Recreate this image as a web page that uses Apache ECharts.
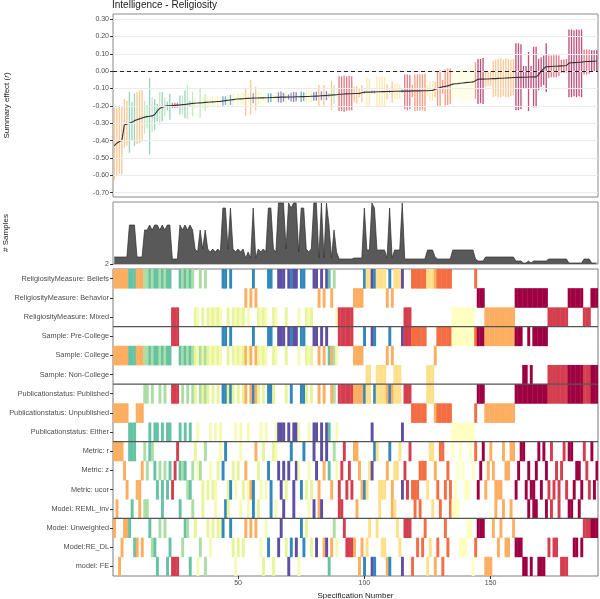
<!DOCTYPE html>
<html><head><meta charset="utf-8">
<script src="https://cdn.jsdelivr.net/npm/echarts@6/dist/echarts.min.js"></script>
<style>html,body{margin:0;padding:0;background:#fff}#main{width:600px;height:599px}</style>
</head><body><div id="main"></div>
<script>
// ---------------- DATA ----------------
const title = "Intelligence - Religiosity";
const factorLabels = ["ReligiosityMeasure: Beliefs","ReligiosityMeasure: Behavior","ReligiosityMeasure: Mixed",
  "Sample: Pre-College","Sample: College","Sample: Non-College",
  "Publicationstatus: Published","Publicationstatus: Unpublished","Publicationstatus: Either",
  "Metric: r","Metric: z","Metric: ucor",
  "Model: REML_inv","Model: Unweighted","Model:RE_DL","model: FE"];
const effectTicks = [-0.7,-0.6,-0.5,-0.4,-0.3,-0.2,-0.1,0,0.1,0.2,0.3];
const sampleTicks = [2];
const specTicks = [50,100,150];

// which-subsets (combos)
const comboKeys    = ["A","B","C","D","E","F","G","H","I","J","K","L","M","N","O","P"];
const comboColor   = ["#FDAE61","#66C2A5","#ABDDA4","#D53E4F","#E6F598","#F6FAB4","#3288BD","#FDAE61",
                      "#5E4FA2","#FEE08B","#F46D43","#FFFFBF","#FDAE61","#9E0142","#9E0142","#D53E4F"];
const comboRel     = ["Beliefs","Beliefs","Beliefs","Mixed","Mixed","Mixed","Beliefs","Behavior",
                      "Beliefs","Beliefs","Beliefs","Mixed","Mixed","Behavior","Behavior","Mixed"];
const comboSample  = ["College","College","College","Pre-College","College","College","Pre-College","College",
                      "Pre-College","Non-College","Pre-College","Pre-College","Pre-College","Pre-College","Non-College","Non-College"];
const comboPub     = ["Unpublished","Either","Published","Published","Published","Either","Published","Published",
                      "Either","Published","Unpublished","Either","Unpublished","Published","Published","Published"];
const comboK       = [9,41,36,7,17,14,58,8,63,16,7,16,9,5,3,7];

// per specification (1..192)
const specCombo = "AAAAAABBBAAA" + "CCBCBBCBCB" + "B" + "DDD" + "BCBCBC" + "EFCECEFEFEF" + "GGEGEFEFE" +
  "HFHGH" + "EFEFGGEF" + "IIIEIGIIF" + "GGEFEIIHIHIBHCF" + "DDDDDD" + "HHHH" + "G" + "JJ" + "I" + "G" +
  "JJJJ" + "H" + "G" + "H" + "JJJ" + "I" + "DDD" + "KKKKKK" + "JJJ" + "A" + "KKKKKK" + "LLLLLLLLL" + "K" +
  "NNN" + "MMMMMMMMMMMM" + "NNN" + "OO" + "N" + "O" + "NNNNNN" + "PPPPPPPP" + "OOOOOO" + "PPP" + "OOO";
const specMetric = "rrrrzurrru" + "uzrzrrzuzu" + "zuzuzrzzzu" + "uzrzzuruzu" + "uzrzruuzuz" + "ruzuuurzur" +
  "uzurrzuzuz" + "ruzzuruzur" + "zurzrzurzu" + "zruzurrzuu" + "uzzrruuuzr" + "uzzruzuruu" + "uzzzurrzur" +
  "ruzuruzrzu" + "urzruzruzr" + "zuuurzzrru" + "zrruzuuzru" + "rzuruzuzru" + "rruzzurzur" + "uz";
const specModel = "URFDUUURDD" + "RDRRUDDFUR" + "UFDFFFRDUU" + "FRUFDRFUDU" + "RUUURRUDFD" + "RDURURURDF" +
  "UDRFRDURDF" + "DRDFUDURDR" + "DRRDDFDUDR" + "RUDDDDRFDF" + "DUFFURDDFF" + "RRUDFUUUFR" + "DRDUFDRFDR" +
  "FUDRRRRDDD" + "UUFDUUUFFF" + "URDURDDRUD" + "DDFFRFRRFF" + "FRDRDDRFFF" + "RRDDRDUUUU" + "UU";
const metricRow = {r:"Metric: r", z:"Metric: z", u:"Metric: ucor"};
const modelRow  = {R:"Model: REML_inv", U:"Model: Unweighted", D:"Model:RE_DL", F:"model: FE"};

const estimate = [-0.430,-0.415,-0.405,-0.400,-0.310,-0.305,-0.300,-0.295,-0.285,-0.280,
-0.275,-0.270,-0.265,-0.262,-0.260,-0.258,-0.250,-0.230,-0.215,-0.208,
-0.203,-0.200,-0.200,-0.198,-0.197,-0.196,-0.195,-0.193,-0.192,-0.190,
-0.188,-0.186,-0.185,-0.184,-0.183,-0.182,-0.180,-0.179,-0.178,-0.177,
-0.176,-0.175,-0.174,-0.172,-0.170,-0.168,-0.166,-0.164,-0.162,-0.161,
-0.160,-0.159,-0.158,-0.157,-0.156,-0.155,-0.155,-0.155,-0.154,-0.154,
-0.153,-0.153,-0.152,-0.152,-0.151,-0.151,-0.150,-0.150,-0.150,-0.149,
-0.149,-0.149,-0.148,-0.148,-0.147,-0.147,-0.146,-0.146,-0.145,-0.145,
-0.144,-0.143,-0.142,-0.141,-0.140,-0.139,-0.138,-0.137,-0.136,-0.133,
-0.133,-0.132,-0.131,-0.130,-0.130,-0.129,-0.129,-0.128,-0.125,-0.122,
-0.121,-0.121,-0.120,-0.120,-0.119,-0.119,-0.118,-0.118,-0.117,-0.117,
-0.117,-0.116,-0.116,-0.116,-0.115,-0.115,-0.115,-0.115,-0.114,-0.114,
-0.114,-0.114,-0.113,-0.113,-0.113,-0.112,-0.112,-0.105,-0.100,-0.095,
-0.090,-0.088,-0.085,-0.080,-0.075,-0.073,-0.072,-0.070,-0.068,-0.066,
-0.065,-0.064,-0.062,-0.055,-0.047,-0.046,-0.046,-0.045,-0.045,-0.044,
-0.043,-0.043,-0.042,-0.041,-0.041,-0.040,-0.039,-0.038,-0.037,-0.037,
-0.036,-0.036,-0.035,-0.035,-0.034,-0.034,-0.033,-0.033,-0.020,0.000,
0.015,0.025,0.026,0.027,0.028,0.028,0.029,0.030,0.031,0.032,
0.046,0.048,0.049,0.050,0.051,0.052,0.054,0.055,0.055,0.056,
0.057,0.058];
const lower = [-0.630,-0.600,-0.590,-0.595,-0.440,-0.430,-0.470,-0.400,-0.430,-0.420,
-0.415,-0.405,-0.360,-0.330,-0.480,-0.350,-0.340,-0.290,-0.310,-0.290,
-0.260,-0.225,-0.280,-0.213,-0.212,-0.211,-0.250,-0.250,-0.270,-0.275,
-0.205,-0.260,-0.215,-0.200,-0.270,-0.215,-0.230,-0.215,-0.210,-0.210,
-0.205,-0.212,-0.205,-0.200,-0.195,-0.200,-0.195,-0.200,-0.178,-0.195,
-0.192,-0.195,-0.260,-0.190,-0.250,-0.185,-0.225,-0.190,-0.190,-0.170,
-0.190,-0.180,-0.178,-0.168,-0.185,-0.180,-0.182,-0.176,-0.185,-0.164,
-0.175,-0.178,-0.175,-0.162,-0.178,-0.172,-0.180,-0.180,-0.178,-0.170,
-0.170,-0.205,-0.168,-0.200,-0.166,-0.150,-0.225,-0.190,-0.170,-0.230,
-0.230,-0.235,-0.228,-0.225,-0.225,-0.180,-0.185,-0.150,-0.180,-0.130,
-0.205,-0.200,-0.128,-0.128,-0.210,-0.205,-0.210,-0.205,-0.160,-0.125,
-0.180,-0.160,-0.165,-0.160,-0.123,-0.220,-0.225,-0.220,-0.150,-0.230,
-0.228,-0.228,-0.225,-0.230,-0.145,-0.170,-0.170,-0.150,-0.200,-0.200,
-0.130,-0.200,-0.195,-0.190,-0.160,-0.150,-0.160,-0.180,-0.175,-0.180,
-0.170,-0.165,-0.090,-0.160,-0.190,-0.185,-0.190,-0.090,-0.085,-0.088,
-0.150,-0.145,-0.150,-0.150,-0.145,-0.150,-0.150,-0.145,-0.140,-0.225,
-0.225,-0.220,-0.100,-0.100,-0.230,-0.100,-0.210,-0.210,-0.110,-0.090,
-0.080,-0.120,-0.040,-0.035,-0.035,-0.035,-0.030,-0.010,-0.010,-0.008,
-0.150,-0.150,-0.145,-0.150,-0.145,-0.150,-0.020,-0.020,-0.015,-0.005,
-0.005,-0.005];
const upper = [-0.210,-0.210,-0.200,-0.205,-0.160,-0.170,-0.120,-0.180,-0.130,-0.120,
-0.110,-0.110,-0.170,-0.195,-0.040,-0.150,-0.160,-0.190,-0.120,-0.120,
-0.150,-0.175,-0.130,-0.183,-0.182,-0.181,-0.140,-0.140,-0.110,-0.080,
-0.170,-0.120,-0.155,-0.168,-0.100,-0.150,-0.130,-0.145,-0.145,-0.145,
-0.148,-0.140,-0.142,-0.145,-0.145,-0.138,-0.138,-0.130,-0.148,-0.128,
-0.128,-0.125,-0.100,-0.125,-0.050,-0.128,-0.090,-0.120,-0.118,-0.140,
-0.118,-0.128,-0.127,-0.137,-0.117,-0.122,-0.118,-0.125,-0.115,-0.134,
-0.124,-0.120,-0.121,-0.134,-0.118,-0.122,-0.112,-0.112,-0.112,-0.120,
-0.118,-0.080,-0.116,-0.080,-0.114,-0.128,-0.055,-0.080,-0.102,-0.030,
-0.030,-0.025,-0.030,-0.028,-0.030,-0.090,-0.085,-0.105,-0.080,-0.114,
-0.040,-0.045,-0.112,-0.112,-0.030,-0.035,-0.030,-0.035,-0.075,-0.109,
-0.060,-0.075,-0.070,-0.078,-0.107,-0.020,-0.020,-0.022,-0.080,-0.020,
-0.018,-0.020,-0.018,-0.015,-0.080,-0.060,-0.058,-0.060,0.000,0.005,
-0.050,0.010,0.015,0.015,0.010,0.005,0.010,0.020,0.020,0.025,
0.030,0.035,-0.035,0.050,0.070,0.070,0.075,0.000,-0.005,0.000,
0.060,0.065,0.070,0.075,0.065,0.075,0.070,0.065,0.070,0.160,
0.160,0.155,0.030,0.030,0.110,0.030,0.140,0.140,0.070,0.080,
0.090,0.160,0.090,0.090,0.092,0.092,0.090,0.065,0.068,0.070,
0.240,0.240,0.235,0.240,0.238,0.240,0.125,0.125,0.125,0.120,
0.120,0.120];

// ---------------- BUILD ----------------
const nSpec = Math.min(specCombo.length, estimate.length, lower.length, upper.length, specMetric.length, specModel.length);
const ci = comboKeys.reduce((o,k,i)=>(o[k]=i,o),{});
const rowIdx = l => factorLabels.indexOf(l);
const relRow = {Beliefs:"ReligiosityMeasure: Beliefs",Behavior:"ReligiosityMeasure: Behavior",Mixed:"ReligiosityMeasure: Mixed"};

const errData = [], lineData = [], sampleData = [], tileData = [];
for (let i = 0; i < nSpec; i++) {
  const n = i + 1, c = ci[specCombo[i]], col = comboColor[c];
  errData.push({value:[n, lower[i], upper[i]], itemStyle:{color:col}});
  lineData.push([n, estimate[i]]);
  sampleData.push([n, comboK[c]]);
  const rows = [relRow[comboRel[c]], "Sample: " + comboSample[c], "Publicationstatus: " + comboPub[c],
                metricRow[specMetric[i]], modelRow[specModel[i]]];
  rows.forEach(r => tileData.push({value:[n, rowIdx(r)], itemStyle:{color:col}}));
}
const separators = [3, 6, 9, 13].map(b => [0.5, b]);

const FONT = "'Liberation Sans', Arial, sans-serif";
const XMIN = 0.5, XMAX = 192.5;
const txt = '#4D4D4D';
const fmt = v => { const r = Math.round(v*100)/100; return (r === 0 ? 0 : r).toFixed(2); };
const gridBase = {left: 113, width: 485, show: true, containLabel: false, outerBoundsMode: 'none', borderWidth: 1};

const chart = echarts.init(document.getElementById('main'), null, {renderer:'canvas'});
chart.setOption({
  animation: false,
  textStyle: {fontFamily: FONT},
  title: {text: title, left: 112, top: 0, padding: 0,
    textStyle: {fontSize: 10, fontWeight: 'normal', color: '#1a1a1a', fontFamily: FONT}},
  grid: [
    Object.assign({}, gridBase, {top: 14, height: 183, borderColor: '#8a8a8a'}),
    Object.assign({}, gridBase, {top: 202, height: 62, borderColor: '#8a8a8a'}),
    Object.assign({}, gridBase, {top: 269, height: 307, borderColor: '#7a7a7a'})
  ],
  xAxis: [
    {gridIndex: 0, type: 'value', min: XMIN, max: XMAX, axisLine:{show:false}, axisTick:{show:false}, axisLabel:{show:false}, splitLine:{show:false}},
    {gridIndex: 1, type: 'value', min: XMIN, max: XMAX, axisLine:{show:false}, axisTick:{show:false}, axisLabel:{show:false}, splitLine:{show:false}},
    {gridIndex: 2, type: 'value', min: XMIN, max: XMAX, axisLine:{show:false},
      axisTick:{show:true, length:3, lineStyle:{color:'#333'}, customValues: specTicks},
      axisLabel:{fontSize: 7, color: txt, margin: 4, customValues: specTicks},
      splitLine:{show:false},
      name: 'Specification Number', nameLocation: 'middle', nameGap: 15,
      nameTextStyle: {fontSize: 8, color: '#1a1a1a', fontFamily: FONT}}
  ],
  yAxis: [
    {gridIndex: 0, type: 'value', min: -0.725, max: 0.329, axisLine:{show:false},
      axisTick:{show:true, length:3, lineStyle:{color:'#333'}, customValues: effectTicks},
      axisLabel:{fontSize: 7, color: txt, margin: 4, customValues: effectTicks, formatter: fmt},
      splitLine:{show:false},
      name: '{a|Summary effect (}{b|r}{a|)}', nameLocation: 'middle', nameGap: 102, nameRotate: 90,
      nameTextStyle: {rich: {a:{fontSize: 8, color:'#1a1a1a', fontFamily: FONT}, b:{fontSize: 8, fontStyle:'italic', color:'#1a1a1a', fontFamily: FONT}}}},
    {gridIndex: 1, type: 'value', min: 2, max: 64, axisLine:{show:false},
      axisTick:{show:true, length:3, lineStyle:{color:'#333'}, customValues: sampleTicks},
      axisLabel:{fontSize: 7, color: txt, margin: 4, customValues: sampleTicks},
      splitLine:{show:false},
      name: '# Samples', nameLocation: 'middle', nameGap: 103, nameRotate: 90,
      nameTextStyle: {fontSize: 8, color: '#1a1a1a', fontFamily: FONT}},
    {gridIndex: 2, type: 'category', data: factorLabels, inverse: true, axisLine:{show:false},
      axisTick:{show:true, length:3, alignWithLabel:true, lineStyle:{color:'#333'}},
      axisLabel:{fontSize: 7.3, color: txt, margin: 4},
      splitLine:{show:false},
      name: 'WhichHowFactors', nameLocation: 'middle', nameGap: 101, nameRotate: 90,
      nameTextStyle: {fontSize: 8.5, color: '#1a1a1a', fontFamily: FONT}}
  ],
  series: [
    { // horizontal grid lines of the effect panel
      type: 'line', xAxisIndex: 0, yAxisIndex: 0, data: [], z: 1, silent: true,
      markLine: {silent: true, symbol: 'none', label: {show: false},
        lineStyle: {color: '#ebebeb', width: 1, type: 'solid'},
        data: effectTicks.map(v => ({yAxis: v}))}
    },
    { // error bars
      type: 'custom', xAxisIndex: 0, yAxisIndex: 0, z: 2, clip: true,
      encode: {x: 0, y: [1, 2]},
      data: errData,
      renderItem: (params, api) => {
        const n = api.value(0);
        const p1 = api.coord([n, api.value(1)]), p2 = api.coord([n, api.value(2)]);
        return {type: 'line', shape: {x1: p1[0], y1: p1[1], x2: p2[0], y2: p2[1]},
          style: {stroke: api.visual('color'), lineWidth: 1.35, opacity: 0.68}};
      }
    },
    { // estimates
      type: 'line', xAxisIndex: 0, yAxisIndex: 0, z: 4, data: lineData, showSymbol: false,
      lineStyle: {color: '#333', width: 1.1}, itemStyle: {color: '#333'},
      markLine: {silent: true, symbol: 'none', label: {show: false},
        lineStyle: {color: '#222', width: 1, type: [4, 3]},
        data: [{yAxis: 0}]}
    },
    { // number of samples
      type: 'line', xAxisIndex: 1, yAxisIndex: 1, data: sampleData, showSymbol: false,
      lineStyle: {color: '#2e2e2e', width: 0.7},
      areaStyle: {color: '#595959', opacity: 1, origin: 'start'}
    },
    { // tiles
      type: 'custom', xAxisIndex: 2, yAxisIndex: 2, clip: true,
      encode: {x: 0, y: 1},
      data: tileData,
      renderItem: (params, api) => {
        const c = api.coord([api.value(0), api.value(1)]);
        const s = api.size([1, 1]);
        return {type: 'rect', shape: {x: c[0] - s[0]/2, y: c[1] - s[1]/2, width: s[0] + 0.4, height: s[1] + 0.4},
          style: {fill: api.visual('color')}};
      }
    },
    { // group separators
      type: 'custom', xAxisIndex: 2, yAxisIndex: 2, z: 5,
      encode: {x: 0, y: 1},
      data: separators,
      renderItem: (params, api) => {
        const b = api.value(1);
        const a = api.coord([XMIN, b - 1]), c = api.coord([XMIN, b]), e = api.coord([XMAX, b]);
        const y = (a[1] + c[1]) / 2;
        return {type: 'line', shape: {x1: a[0], y1: y, x2: e[0], y2: y},
          style: {stroke: '#555', lineWidth: 1.2}};
      }
    }
  ]
});
</script></body></html>
